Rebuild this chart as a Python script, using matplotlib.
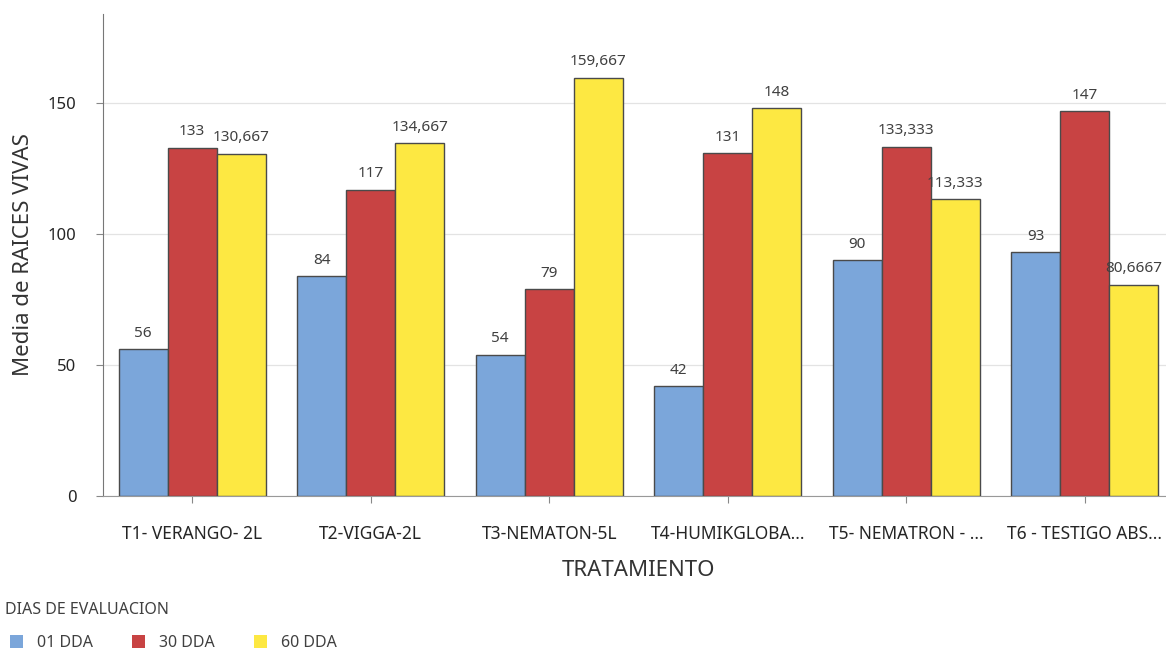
import matplotlib.pyplot as plt
import numpy as np

plt.rcParams['font.family'] = ['Noto Sans', 'DejaVu Sans']

tratamientos = ['T1- VERANGO- 2L', 'T2-VIGGA-2L', 'T3-NEMATON-5L',
                'T4-HUMIKGLOBA...', 'T5- NEMATRON - ...', 'T6 - TESTIGO ABS...']
series_names = ['01 DDA', '30 DDA', '60 DDA']
dda_01 = [56, 84, 54, 42, 90, 93]
dda_30 = [133, 117, 79, 131, 133.333, 147]
dda_60 = [130.667, 134.667, 159.667, 148, 113.333, 80.6667]
colors = ['#7BA6DA', '#C84343', '#FDE842']


def fmt(v):
    return f'{v:.6g}'.replace('.', ',')


fig = plt.figure(figsize=(11.66, 6.52), dpi=100)
ax = fig.add_axes([103 / 1166, 1 - 496 / 652, 1071 / 1166, (496 - 14) / 652])

x = np.arange(len(tratamientos))
w = 0.275
for i, (vals, name, c) in enumerate(zip([dda_01, dda_30, dda_60], series_names, colors)):
    bars = ax.bar(x + (i - 1) * w, vals, w, color=c, edgecolor='#4a4a4a',
                  linewidth=1, label=name, zorder=3)
    for rect, v in zip(bars, vals):
        ax.annotate(fmt(v), (rect.get_x() + rect.get_width() / 2, rect.get_height()),
                    xytext=(0, 6), textcoords='offset points', ha='center', va='bottom',
                    fontsize=11, color='#404040')

ax.set_xlim(-0.5, 5.5)
ax.set_ylim(0, 184)
ax.set_yticks([0, 50, 100, 150])
ax.set_xticks(x)
ax.set_xticklabels(tratamientos, fontsize=12.5, color='#252525')
ax.tick_params(axis='y', labelsize=12, labelcolor='#252525', length=5, color='#888888', pad=14)
ax.tick_params(axis='x', length=5, color='#888888', pad=16)
ax.grid(axis='y', color='#e3e3e3', linewidth=0.9, zorder=0)
for s in ['top', 'right']:
    ax.spines[s].set_visible(False)
ax.spines['left'].set_color('#777777')
ax.spines['bottom'].set_color('#999999')

ax.set_ylabel('Media de RAICES VIVAS', fontsize=16, color='#333333', labelpad=10)
ax.set_xlabel('TRATAMIENTO', fontsize=16, color='#333333', labelpad=12)

fig.text(5 / 1166, 1 - 610 / 652, 'DIAS DE EVALUACION', fontsize=11.5, color='#404040',
         ha='left', va='center')
leg = fig.legend(loc='center left', bbox_to_anchor=(10 / 1166, 1 - 643 / 652), ncol=3,
                 frameon=False, fontsize=11.5, handlelength=0.8, handleheight=0.8,
                 handletextpad=0.9, columnspacing=2.45, borderpad=0, borderaxespad=0)
for t in leg.get_texts():
    t.set_color('#404040')
for h in leg.legend_handles:
    h.set_edgecolor('none')

fig.savefig('out.png', dpi=100)
